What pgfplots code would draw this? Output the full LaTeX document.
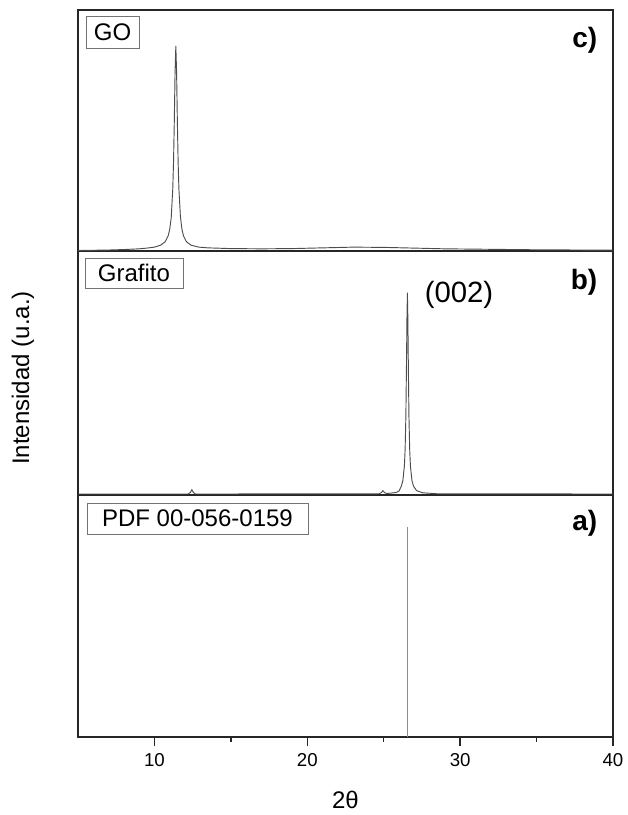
\documentclass[border=0pt]{standalone}
\usepackage{fontspec}
\setmainfont{Liberation Sans}
\usepackage{pgfplots}
\pgfplotsset{compat=1.18}

\pgfplotsset{
  xrdpanel/.style={
    width=401.25pt, height=#1, scale only axis,
    xmin=5, xmax=40, ymin=0, ymax=100,
    ytick=\empty, xtick=\empty,
    axis line style={black!85, line width=1pt},
  },
  xrdline/.style={black!70, line width=0.7pt, no marks, line join=round},
}

\begin{document}
\begin{tikzpicture}
\path (-58.5pt,-58.5pt) rectangle (411pt,552.75pt);

% a) reference pattern
\begin{axis}[xrdpanel=181.5pt, at={(0pt,0pt)}, anchor=south west,
  xtick={10,20,30,40}, minor xtick={15,25,35}, xtick pos=left, tick align=outside,
  major tick length=7pt, minor tick length=3.75pt,
  tick style={black!85, line width=1pt},
  xticklabel style={font=\fontsize{14}{16}\selectfont, yshift=-2pt},
  /pgf/number format/assume math mode=true]
\addplot[ycomb, black!45, line width=1pt, no marks] coordinates {(26.55,86.8)};
\end{axis}

% b) Grafito
\begin{axis}[xrdpanel=183pt, at={(0pt,181.5pt)}, anchor=south west]
\addplot[xrdline] coordinates {
(5,0.4) (12.2,0.4) (12.35,1.0) (12.45,2.2) (12.55,1.0) (12.7,0.4)
(24.7,0.5) (24.85,1.0) (24.95,1.8) (25.05,1.0) (25.2,0.6)
(25.8,1.0) (26.0,1.6) (26.15,3.6) (26.25,5.8) (26.35,11.7) (26.4,18.5)
(26.45,32.4) (26.5,59.4) (26.52,72.3) (26.55,82.8) (26.58,72.3) (26.6,59.4)
(26.65,32.4) (26.7,18.5) (26.75,11.7) (26.85,5.8) (26.95,3.6) (27.15,1.8)
(27.55,0.9) (28.5,0.5) (40,0.4)
};
\end{axis}

% c) GO
\begin{axis}[xrdpanel=180.75pt, at={(0pt,364.5pt)}, anchor=south west]
\addplot[xrdline] coordinates {
(5,0.2) (6,0.3) (7,0.4) (8,0.6) (9,0.9) (9.5,1.2) (10,1.6) (10.4,2.4)
(10.7,3.8) (10.9,6.3) (11.0,9.0) (11.1,13.9) (11.2,25.9) (11.25,37)
(11.3,53.8) (11.35,74.2) (11.4,85) (11.45,74.2) (11.5,53.8) (11.55,37)
(11.6,25.9) (11.7,14.3) (11.8,9.0) (11.9,6.3) (12.1,3.8) (12.4,2.4)
(12.9,1.6) (13.5,1.3) (15,1.0) (17,0.9) (19,1.0) (21,1.3) (23,1.6)
(25,1.5) (27,1.2) (29,0.9) (32,0.7) (35,0.5) (38,0.4) (40,0.4)
};
\end{axis}

% labels
\tikzset{tag/.style={draw=black!55, line width=0.6pt, inner sep=0pt,
  font=\fontsize{18}{20}\selectfont}}
\node[tag, minimum width=39.75pt, minimum height=24pt] at (25.9pt,528.75pt) {GO};
\node[tag, minimum width=73.5pt, minimum height=22.5pt] at (42pt,348pt) {Grafito};
\node[tag, minimum width=165.75pt, minimum height=23.25pt] at (89.6pt,163.9pt) {PDF 00-056-0159};
\node[anchor=east, font=\fontsize{21}{23}\selectfont\bfseries] at (393pt,522.75pt) {c)};
\node[anchor=east, font=\fontsize{21}{23}\selectfont\bfseries] at (393pt,341.25pt) {b)};
\node[anchor=east, font=\fontsize{21}{23}\selectfont\bfseries] at (393pt,160.5pt) {a)};
\node[font=\fontsize{22}{24}\selectfont] at (285.75pt,331.5pt) {(002)};
\node[rotate=90, font=\fontsize{18}{20}\selectfont] at (-41.25pt,269.25pt) {Intensidad (u.a.)};
\node[font=\fontsize{18}{20}\selectfont] at (200.6pt,-47.25pt) {2θ};
\end{tikzpicture}
\end{document}
